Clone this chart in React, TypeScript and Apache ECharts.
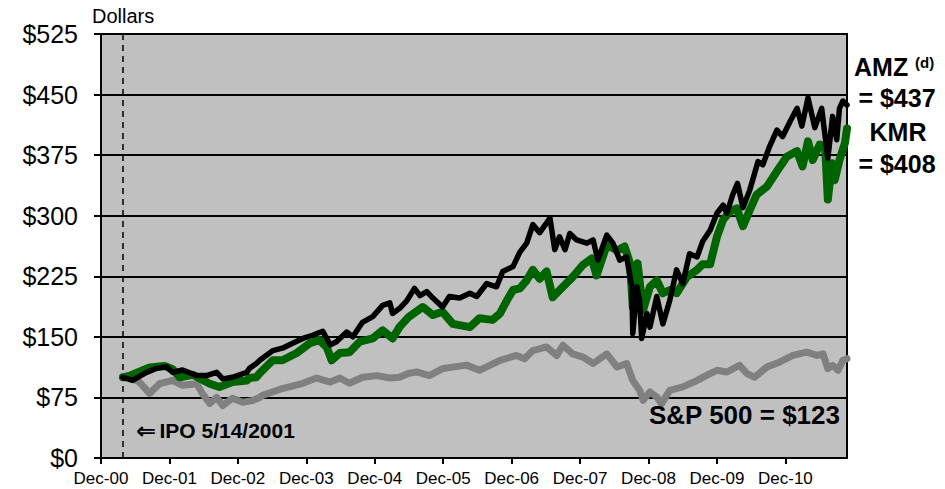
import React, { useEffect, useRef } from "react";
import * as echarts from "echarts";

// x = years since Dec-00, y = dollars
const xTickLabels = ["Dec-00", "Dec-01", "Dec-02", "Dec-03", "Dec-04", "Dec-05", "Dec-06", "Dec-07", "Dec-08", "Dec-09", "Dec-10"];
const ipoT = 0.32;

const amz: [number, number][] = [
  [0.32, 100], [0.46, 96], [0.665, 106], [0.81, 111], [0.96, 113], [1.045, 106], [1.19, 109], [1.4, 102], [1.54, 102],
  [1.69, 106], [1.78, 98], [1.92, 100], [2.13, 106], [2.17, 111], [2.27, 117], [2.32, 121], [2.51, 133], [2.65, 136],
  [2.8, 142], [2.95, 148], [3.09, 152], [3.24, 157], [3.35, 140], [3.44, 144], [3.59, 156], [3.68, 150], [3.82, 168],
  [3.97, 175], [4.115, 189], [4.22, 192], [4.26, 179], [4.36, 185], [4.47, 195], [4.58, 210], [4.66, 201], [4.76, 206],
  [4.85, 198], [4.99, 187], [5.09, 200], [5.24, 198], [5.39, 204], [5.49, 200], [5.636, 216], [5.78, 212], [5.87, 231],
  [6.02, 237], [6.12, 255], [6.22, 266], [6.31, 289], [6.41, 279], [6.56, 297], [6.63, 258], [6.7, 274], [6.78, 258],
  [6.85, 278], [6.95, 270], [7.1, 266], [7.19, 270], [7.26, 245], [7.39, 276], [7.48, 266], [7.58, 245], [7.68, 249],
  [7.756, 212], [7.77, 154], [7.83, 212], [7.87, 195], [7.9, 148], [7.975, 179], [8.02, 162], [8.12, 200], [8.21, 166],
  [8.31, 195], [8.41, 233], [8.5, 216], [8.6, 253], [8.71, 249], [8.79, 268], [8.9, 282], [9.0, 303], [9.09, 313],
  [9.145, 303], [9.23, 326], [9.3, 340], [9.38, 310], [9.48, 332], [9.6, 367], [9.67, 363], [9.77, 386], [9.876, 406],
  [9.96, 398], [10.07, 417], [10.17, 433], [10.24, 411], [10.33, 446], [10.43, 409], [10.53, 433], [10.62, 371],
  [10.69, 423], [10.75, 394], [10.79, 433], [10.84, 442], [10.9, 437],
];

const kmr: [number, number][] = [
  [0.32, 100], [0.37, 100], [0.71, 112], [0.93, 114], [1.045, 110], [1.15, 100], [1.34, 103], [1.59, 92], [1.73, 88],
  [1.92, 94], [2.13, 96], [2.17, 99], [2.27, 100], [2.32, 105], [2.51, 121], [2.65, 121], [2.86, 130], [3.05, 142],
  [3.19, 146], [3.3, 137], [3.37, 121], [3.49, 130], [3.63, 131], [3.78, 144], [3.97, 148], [4.115, 158], [4.26, 148],
  [4.36, 162], [4.5, 175], [4.7, 187], [4.85, 177], [4.99, 181], [5.14, 166], [5.39, 162], [5.53, 173], [5.72, 171],
  [5.83, 179], [5.93, 195], [6.02, 208], [6.12, 210], [6.22, 220], [6.31, 233], [6.41, 222], [6.51, 231], [6.6, 199],
  [6.75, 212], [6.89, 224], [7.04, 239], [7.17, 247], [7.24, 226], [7.39, 264], [7.54, 257], [7.65, 262], [7.73, 241],
  [7.77, 187], [7.84, 241], [7.92, 183], [8.02, 212], [8.12, 220], [8.21, 204], [8.31, 208], [8.41, 204], [8.56, 224],
  [8.71, 233], [8.79, 240], [8.9, 240], [9.0, 274], [9.09, 295], [9.19, 305], [9.29, 309], [9.38, 287], [9.48, 307],
  [9.58, 326], [9.73, 336], [9.876, 355], [10.02, 373], [10.17, 380], [10.25, 361], [10.33, 392], [10.4, 369],
  [10.5, 388], [10.58, 386], [10.62, 320], [10.68, 365], [10.72, 344], [10.79, 369], [10.87, 390], [10.9, 408],
];

const sp500: [number, number][] = [
  [0.32, 100], [0.37, 102], [0.56, 94], [0.71, 80], [0.855, 92], [1.045, 96], [1.19, 90], [1.4, 92], [1.48, 80],
  [1.59, 67.5], [1.69, 75], [1.78, 65], [1.92, 74], [2.07, 69], [2.21, 71], [2.32, 75], [2.36, 77.5], [2.65, 86],
  [2.95, 92.5], [3.15, 99], [3.35, 94], [3.49, 99], [3.63, 92.5], [3.82, 100], [4.03, 102], [4.22, 99], [4.36, 100],
  [4.5, 105], [4.61, 106.5], [4.8, 102], [4.99, 110.7], [5.34, 115], [5.53, 108.6], [5.83, 121], [6.07, 127],
  [6.19, 123], [6.31, 133], [6.51, 137.5], [6.66, 127], [6.75, 139.6], [6.89, 129], [7.04, 125], [7.19, 117],
  [7.39, 129], [7.54, 112.7], [7.68, 117], [7.77, 96], [7.87, 84], [7.92, 71.4], [8.02, 81.7], [8.12, 75.5],
  [8.19, 67.3], [8.31, 83.8], [8.5, 88], [8.71, 96], [8.9, 104.5], [9.0, 108.6], [9.145, 106.5], [9.33, 114.8],
  [9.44, 104.5], [9.55, 100], [9.73, 112.7], [9.92, 119], [10.11, 127], [10.31, 131], [10.46, 127], [10.55, 129],
  [10.62, 110.7], [10.69, 114.8], [10.77, 108.6], [10.84, 121], [10.9, 123],
];

const FONT = '"Liberation Sans", Arial, "DejaVu Sans", sans-serif';

export default function App() {
  const ref = useRef<HTMLDivElement>(null);
  useEffect(() => {
    if (!ref.current) return;
    document.body.style.margin = "0";
    const chart = echarts.init(ref.current, undefined, { renderer: "svg" });
    const txt = (text: string, x: number, y: number, size: number, align: string, bold = true) => ({
      type: "text",
      x,
      y,
      z: 100,
      style: {
        text,
        fill: "#000",
        font: `${bold ? "bold " : ""}${size}px ${FONT}`,
        align,
        textAlign: align,
        verticalAlign: "middle",
        textVerticalAlign: "middle",
      },
    });
    const lineStyle = (color: string, width: number) => ({ color, width, cap: "round", join: "round" });
    chart.setOption({
      animation: false,
      backgroundColor: "#fff",
      grid: {
        left: 101,
        right: 98,
        top: 34,
        bottom: 31,
        show: true,
        backgroundColor: "#c0c0c0",
        borderColor: "#000",
        borderWidth: 2,
      },
      xAxis: {
        type: "value",
        min: 0,
        max: 10.9,
        interval: 1,
        axisLine: { show: true, lineStyle: { color: "#000", width: 2 } },
        axisTick: { show: true, length: 6, lineStyle: { color: "#000", width: 2 } },
        splitLine: { show: false },
        axisLabel: {
          color: "#000",
          fontFamily: FONT,
          fontSize: 17,
          margin: 12,
          showMaxLabel: false,
          formatter: (v: number) => {
            const r = Math.round(v);
            return Math.abs(v - r) < 1e-6 && xTickLabels[r] ? xTickLabels[r] : "";
          },
        },
      },
      yAxis: {
        type: "value",
        min: 0,
        max: 525,
        interval: 75,
        axisLine: { show: true, lineStyle: { color: "#000", width: 2 } },
        axisTick: { show: true, length: 7, lineStyle: { color: "#000", width: 2 } },
        splitLine: { show: true, lineStyle: { color: "#000", width: 2 } },
        axisLabel: {
          color: "#000",
          fontFamily: FONT,
          fontSize: 25,
          margin: 23,
          formatter: (v: number) => "$" + v,
        },
      },
      series: [
        {
          name: "S&P 500",
          type: "line",
          data: sp500,
          showSymbol: false,
          lineStyle: lineStyle("#808080", 7),
          itemStyle: { color: "#808080" },
          markLine: {
            silent: true,
            symbol: "none",
            label: { show: false },
            lineStyle: { color: "#000", type: [6, 5], width: 1.5 },
            data: [{ xAxis: ipoT }],
          },
        },
        {
          name: "KMR",
          type: "line",
          data: kmr,
          showSymbol: false,
          lineStyle: lineStyle("#006400", 8),
          itemStyle: { color: "#006400" },
        },
        {
          name: "AMZ",
          type: "line",
          data: amz,
          showSymbol: false,
          lineStyle: lineStyle("#000", 5.5),
          itemStyle: { color: "#000" },
        },
      ],
      graphic: [
        txt("Dollars", 92, 16, 20, "left", false),
        txt("AMZ", 854, 67, 25, "left"),
        txt("(d)", 915, 62, 15, "left"),
        txt("= $437", 897, 98, 25, "center"),
        txt("KMR", 898, 132, 25, "center"),
        txt("= $408", 897, 164, 25, "center"),
        txt("S&P 500 = $123", 840, 415, 26, "right"),
        {
          type: "text",
          x: 136,
          y: 430,
          z: 100,
          style: {
            text: "{a|\u21D0} {b|IPO 5/14/2001}",
            fill: "#000",
            align: "left",
            textAlign: "left",
            verticalAlign: "middle",
            textVerticalAlign: "middle",
            rich: {
              a: { fontFamily: FONT, fontWeight: "bold", fontSize: 24, fill: "#000", color: "#000" },
              b: { fontFamily: FONT, fontWeight: "bold", fontSize: 21, fill: "#000", color: "#000" },
            },
          },
        },
      ],
    });
    return () => chart.dispose();
  }, []);
  return <div ref={ref} style={{ width: 945, height: 489 }} />;
}
